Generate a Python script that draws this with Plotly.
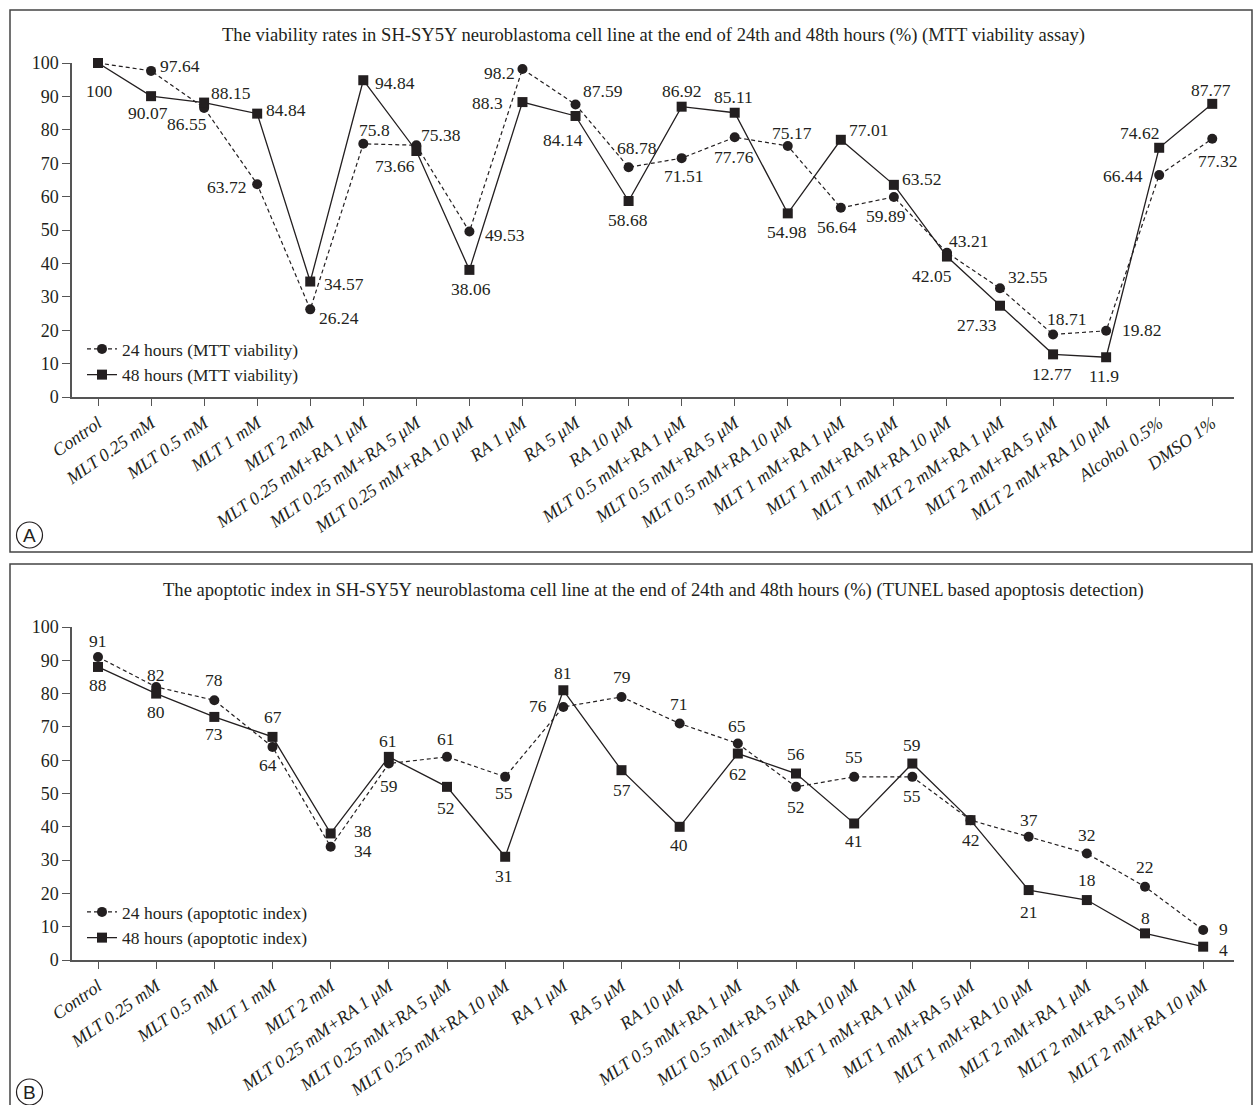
import plotly.graph_objects as go

W, H = 1253, 1105

# ---------------- data ----------------
cats_a = ["Control", "MLT 0.25 mM", "MLT 0.5 mM", "MLT 1 mM", "MLT 2 mM",
          "MLT 0.25 mM+RA 1 μM", "MLT 0.25 mM+RA 5 μM", "MLT 0.25 mM+RA 10 μM",
          "RA 1 μM", "RA 5 μM", "RA 10 μM",
          "MLT 0.5 mM+RA 1 μM", "MLT 0.5 mM+RA 5 μM", "MLT 0.5 mM+RA 10 μM",
          "MLT 1 mM+RA 1 μM", "MLT 1 mM+RA 5 μM", "MLT 1 mM+RA 10 μM",
          "MLT 2 mM+RA 1 μM", "MLT 2 mM+RA 5 μM", "MLT 2 mM+RA 10 μM",
          "Alcohol 0.5%", "DMSO 1%"]
mtt_24h = [100, 97.64, 86.55, 63.72, 26.24, 75.8, 75.38, 49.53, 98.2, 87.59, 68.78,
           71.51, 77.76, 75.17, 56.64, 59.89, 43.21, 32.55, 18.71, 19.82, 66.44, 77.32]
mtt_48h = [100, 90.07, 88.15, 84.84, 34.57, 94.84, 73.66, 38.06, 88.3, 84.14, 58.68,
           86.92, 85.11, 54.98, 77.01, 63.52, 42.05, 27.33, 12.77, 11.9, 74.62, 87.77]

cats_b = cats_a[:20]
apo_24h = [91, 82, 78, 64, 34, 59, 61, 55, 76, 79, 71, 65, 52, 55, 55, 42, 37, 32, 22, 9]
apo_48h = [88, 80, 73, 67, 38, 61, 52, 31, 81, 57, 40, 62, 56, 41, 59, 42, 21, 18, 8, 4]

y_ticks = [0, 10, 20, 30, 40, 50, 60, 70, 80, 90, 100]

title_a = ("The viability rates in SH-SY5Y neuroblastoma cell line at the end of 24th and 48th "
           "hours (%) (MTT viability assay)")
title_b = ("The apoptotic index in SH-SY5Y neuroblastoma cell line at the end of 24th and 48th "
           "hours (%) (TUNEL based apoptosis detection)")

# ---------------- label offsets (px, label centre relative to marker; +dy = down) ----------------
off_a24 = [(1, 28), (29, -5), (-17, 16), (-31, 3), (29, 9), (11, -14), (25, -10), (36, 3),
           (-23, 4), (27, -13), (8, -19), (2, 18), (-1, 20), (4, -13), (-4, 19), (-8, 19),
           (22, -12), (28, -11), (13, -16), (35, -1), (-36, 1), (5, 22)]
off_a48 = [(1, 28), (-3, 17), (27, -10), (29, -4), (34, 2), (32, 3), (-21, 15), (2, 19),
           (-35, 1), (-13, 24), (-1, 19), (0, -16), (-1, -16), (-1, 19), (28, -10), (28, -6),
           (-15, 19), (-23, 19), (-1, 20), (-2, 19), (-20, -15), (-1, -14)]
off_b24 = [(0, -16), (0, -12), (0, -20), (-5, 18), (32, 4), (0, 22), (-1, -18), (-1, 16),
           (-25, -1), (0, -20), (-1, -20), (-1, -18), (0, 20), (0, -20), (0, 19), (0, 20),
           (0, -17), (0, -18), (0, -20), (20, -1)]
off_b48 = [(0, 18), (0, 18), (0, 17), (0, -20), (32, -2), (-1, -16), (-1, 21), (-1, 19),
           (0, -17), (0, 20), (-1, 18), (0, 20), (0, -20), (0, 18), (0, -19), (0, 20),
           (0, 22), (0, -20), (0, -15), (20, 3)]

# ---------------- styles ----------------
SERIF = "Liberation Serif, Times New Roman, serif"
INK = "#231f20"
AXC = "#555555"
FS = 17.5

fig = go.Figure()


def add_series(xs, ys, name, xa, ya, dashed, symbol, legend):
    fig.add_trace(go.Scatter(
        x=xs, y=ys, name=name, mode="lines+markers", xaxis=xa, yaxis=ya,
        line=dict(color=INK, width=1.2 if dashed else 1.3, dash="4px,3px" if dashed else "solid"),
        marker=dict(symbol=symbol, size=10, color=INK),
        cliponaxis=False, legend=legend, hoverinfo="x+y"))


add_series(cats_a, mtt_24h, "24 hours (MTT viability)", "x", "y", True, "circle", "legend")
add_series(cats_a, mtt_48h, "48 hours (MTT viability)", "x", "y", False, "square", "legend")
add_series(cats_b, apo_24h, "24 hours (apoptotic index)", "x2", "y2", True, "circle", "legend2")
add_series(cats_b, apo_48h, "48 hours (apoptotic index)", "x2", "y2", False, "square", "legend2")

annotations = []
_placed = set()


def add_labels(xs, ys, offs, xr, yr):
    for c, v, (dx, dy) in zip(xs, ys, offs):
        key = (xr, c, f"{v:g}", dx, dy)
        if key in _placed:  # identical label at identical spot: draw once
            continue
        _placed.add(key)
        annotations.append(dict(x=c, y=v, xref=xr, yref=yr, text=f"{v:g}", showarrow=False,
                                xshift=dx, yshift=-dy, xanchor="center", yanchor="middle",
                                font=dict(family=SERIF, size=FS, color=INK)))


add_labels(cats_a, mtt_24h, off_a24, "x", "y")
add_labels(cats_a, mtt_48h, off_a48, "x", "y")
add_labels(cats_b, apo_24h, off_b24, "x2", "y2")
add_labels(cats_b, apo_48h, off_b48, "x2", "y2")

# titles
x_mid = (72 + 1234) / 2 / W
annotations.append(dict(text=title_a, x=x_mid, y=1 - 35 / H, xref="paper", yref="paper",
                        showarrow=False, xanchor="center", yanchor="middle",
                        font=dict(family=SERIF, size=18.6, color=INK)))
annotations.append(dict(text=title_b, x=x_mid, y=1 - 590 / H, xref="paper", yref="paper",
                        showarrow=False, xanchor="center", yanchor="middle",
                        font=dict(family=SERIF, size=18.6, color=INK)))
# panel letters
for letter, cy in (("A", 535), ("B", 1092)):
    annotations.append(dict(text=letter, x=29.5 / W, y=1 - cy / H, xref="paper", yref="paper",
                            showarrow=False, xanchor="center", yanchor="middle",
                            font=dict(family="Liberation Sans, Arial, sans-serif", size=19, color=INK)))

shapes = [
    dict(type="rect", xref="paper", yref="paper", x0=10 / W, x1=1252 / W,
         y0=1 - 552 / H, y1=1 - 10 / H, line=dict(color="#444", width=1.5)),
    dict(type="rect", xref="paper", yref="paper", x0=10 / W, x1=1252 / W,
         y0=-0.02, y1=1 - 564 / H, line=dict(color="#444", width=1.5)),
    dict(type="circle", xref="paper", yref="paper", x0=16.5 / W, x1=42.5 / W,
         y0=1 - 548 / H, y1=1 - 522 / H, line=dict(color=INK, width=1.2)),
    dict(type="circle", xref="paper", yref="paper", x0=16.5 / W, x1=42.5 / W,
         y0=1 - 1105 / H, y1=1 - 1079 / H, line=dict(color=INK, width=1.2)),
]

xdom = [72 / W, 1234 / W]
xcommon = dict(domain=xdom, type="category", showline=True, linecolor=AXC, linewidth=1.5,
               ticks="outside", ticklen=7, tickwidth=1.3, tickcolor=AXC, showgrid=False,
               zeroline=False, tickangle=-35,
               tickfont=dict(family=SERIF, size=18, color=INK, style="italic"))
ycommon = dict(range=[0, 100], tickvals=y_ticks, showline=True, linecolor=AXC, linewidth=1.5,
               ticks="outside", ticklen=8, tickwidth=1.3, tickcolor=AXC, showgrid=False,
               zeroline=False, tickfont=dict(family=SERIF, size=18, color=INK))

fig.update_layout(
    width=W, height=H, margin=dict(l=0, r=0, t=0, b=0, pad=0, autoexpand=False),
    paper_bgcolor="white", plot_bgcolor="white", showlegend=True,
    xaxis=dict(**xcommon, anchor="y", range=[-0.49, 21.41], categoryorder="array", categoryarray=cats_a),
    yaxis=dict(**ycommon, anchor="x", domain=[1 - 397 / H, 1 - 63 / H]),
    xaxis2=dict(**xcommon, anchor="y2", range=[-0.447, 19.53], categoryorder="array", categoryarray=cats_b),
    yaxis2=dict(**ycommon, anchor="x2", domain=[1 - 960 / H, 1 - 627 / H]),
    legend=dict(x=82 / W, y=1 - 331 / H, xanchor="left", yanchor="top", bgcolor="rgba(0,0,0,0)",
                font=dict(family=SERIF, size=17.5, color=INK), tracegroupgap=0, itemwidth=30),
    legend2=dict(x=82 / W, y=1 - 894 / H, xanchor="left", yanchor="top", bgcolor="rgba(0,0,0,0)",
                 font=dict(family=SERIF, size=17.5, color=INK), tracegroupgap=0, itemwidth=30),
    annotations=annotations, shapes=shapes,
)

fig.write_html("out.html", config={"displayModeBar": False},
               post_script="document.body.style.margin='0px';")
